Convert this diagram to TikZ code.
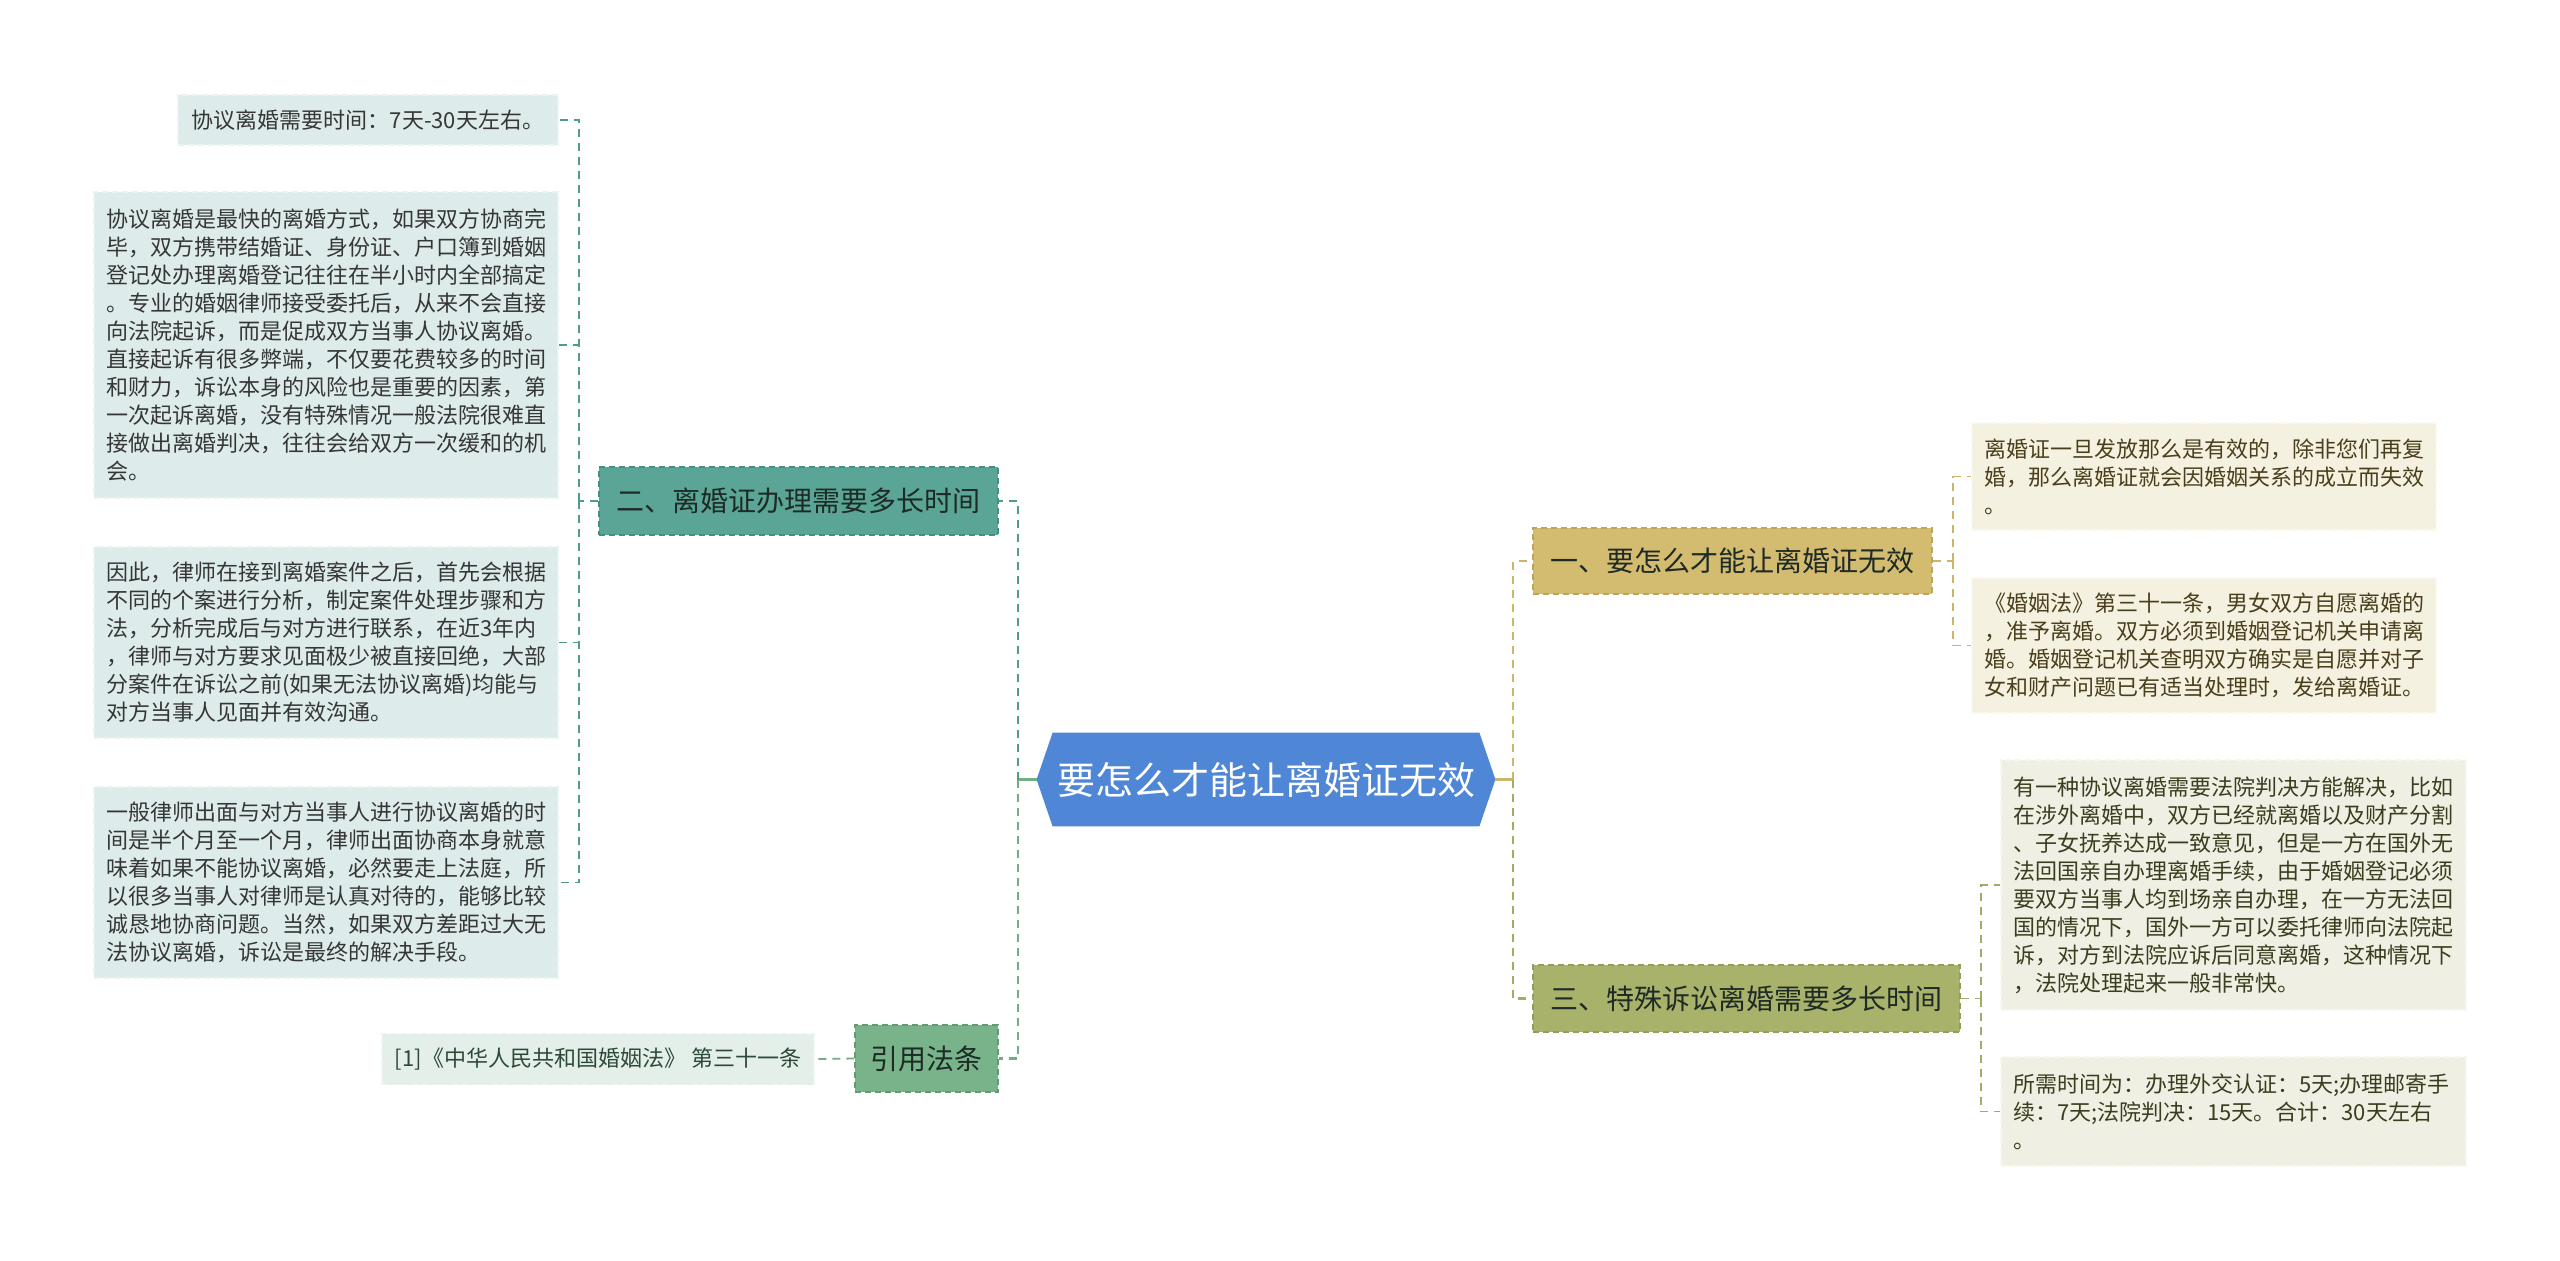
\documentclass[tikz,border=0pt]{standalone}
\usepackage{fontspec}
\setmainfont{Noto Sans CJK SC}
\usetikzlibrary{backgrounds}
\definecolor{leafLfill}{HTML}{DDECEA}
\definecolor{leafLborder}{HTML}{E9F3F1}
\definecolor{leafLtext}{HTML}{363636}
\definecolor{tealfill}{HTML}{5AA595}
\definecolor{tealborder}{HTML}{44907F}
\definecolor{tealline}{HTML}{4F9C8B}
\definecolor{greenfill}{HTML}{78B38A}
\definecolor{greenborder}{HTML}{5F9C72}
\definecolor{greenline}{HTML}{72AE84}
\definecolor{reffill}{HTML}{E4EFE9}
\definecolor{refborder}{HTML}{EEF5F1}
\definecolor{reftext}{HTML}{2D4A38}
\definecolor{centerfill}{HTML}{4F86D6}
\definecolor{goldfill}{HTML}{D3BB6F}
\definecolor{goldborder}{HTML}{BDA55A}
\definecolor{goldline}{HTML}{CDB468}
\definecolor{goldleaf}{HTML}{F5F1E0}
\definecolor{goldleafborder}{HTML}{FAF7EC}
\definecolor{goldtext}{HTML}{4A3F1C}
\definecolor{olivefill}{HTML}{A9B26A}
\definecolor{oliveborder}{HTML}{949D58}
\definecolor{oliveline}{HTML}{A3AC64}
\definecolor{oliveleaf}{HTML}{EFF0E3}
\definecolor{oliveleafborder}{HTML}{F6F7EE}
\definecolor{olivetext}{HTML}{3B3D1E}
\definecolor{darktext}{HTML}{1E2A26}
\begin{document}
\begin{tikzpicture}[x=0.5pt,y=-0.5pt,
  dashbox/.style={dash pattern=on 3pt off 2pt, line width=0.7pt},
  leaftxt/.style={font=\fontsize{11}{14}\selectfont, inner xsep=6pt, inner ysep=0pt, align=left},
  leafL/.style={leaftxt, dashbox, fill=leafLfill, draw=leafLborder, text=leafLtext, text width=220pt},
  leafG/.style={leaftxt, dashbox, fill=goldleaf, draw=goldleafborder, text=goldtext, text width=220pt},
  leafO/.style={leaftxt, dashbox, fill=oliveleaf, draw=oliveleafborder, text=olivetext, text width=220.5pt},
  branch/.style={font=\fontsize{14}{17}\selectfont, dashbox, inner sep=0pt, align=center, text=darktext},
  mainconn/.style={line width=1.4pt, dash pattern=on 4pt off 3pt},
  leafconn/.style={line width=0.9pt, dash pattern=on 4pt off 3pt},
  stem/.style={line width=1.6pt}
]
\useasboundingbox (0,0) rectangle (2560,1260);

% center
\node[inner sep=0pt, minimum width=229pt, minimum height=46.5pt, text=white,
      font=\fontsize{19}{22}\selectfont] (c) at (1266,779.5) {要怎么才能让离婚证无效};
\begin{scope}[on background layer]
  \fill[white] (0,0) rectangle (2560,1260);
  \fill[centerfill] (c.west) -- ([xshift=8pt]c.north west) -- ([xshift=-8pt]c.north east)
     -- (c.east) -- ([xshift=-8pt]c.south east) -- ([xshift=8pt]c.south west) -- cycle;
\end{scope}

% left branches
\node[branch, fill=tealfill, draw=tealborder, minimum width=199.5pt, minimum height=34pt] (b2) at (798.5,501) {二、离婚证办理需要多长时间};
\node[branch, fill=greenfill, draw=greenborder, minimum width=71.5pt, minimum height=33.5pt, text=darktext] (cite) at (926.5,1058.5) {引用法条};
\node[leaftxt, dashbox, fill=reffill, draw=refborder, text=reftext, minimum width=216pt, minimum height=25.5pt, align=center] (ref) at (598,1059) {[1]《中华人民共和国婚姻法》 第三十一条};

% left leaves
\node[leaftxt, dashbox, fill=leafLfill, draw=leafLborder, text=leafLtext, minimum width=190pt, minimum height=25pt, align=center] (l1) at (368,120) {协议离婚需要时间：7天-30天左右。};
\node[leafL, minimum height=153pt] (l2) at (326,345) {协议离婚是最快的离婚方式，如果双方协商完\\毕，双方携带结婚证、身份证、户口簿到婚姻\\登记处办理离婚登记往往在半小时内全部搞定\\。专业的婚姻律师接受委托后，从来不会直接\\向法院起诉，而是促成双方当事人协议离婚。\\直接起诉有很多弊端，不仅要花费较多的时间\\和财力，诉讼本身的风险也是重要的因素，第\\一次起诉离婚，没有特殊情况一般法院很难直\\接做出离婚判决，往往会给双方一次缓和的机\\会。};
\node[leafL, minimum height=95.5pt] (l3) at (326,642.5) {因此，律师在接到离婚案件之后，首先会根据\\不同的个案进行分析，制定案件处理步骤和方\\法，分析完成后与对方进行联系，在近3年内\\，律师与对方要求见面极少被直接回绝，大部\\分案件在诉讼之前(如果无法协议离婚)均能与\\对方当事人见面并有效沟通。};
\node[leafL, minimum height=95.5pt] (l4) at (326,882.5) {一般律师出面与对方当事人进行协议离婚的时\\间是半个月至一个月，律师出面协商本身就意\\味着如果不能协议离婚，必然要走上法庭，所\\以很多当事人对律师是认真对待的，能够比较\\诚恳地协商问题。当然，如果双方差距过大无\\法协议离婚，诉讼是最终的解决手段。};

% right branches
\node[branch, fill=goldfill, draw=goldborder, minimum width=199.5pt, minimum height=33pt, text=darktext] (b1) at (1732.5,561) {一、要怎么才能让离婚证无效};
\node[branch, fill=olivefill, draw=oliveborder, minimum width=213.5pt, minimum height=33.5pt, text=darktext] (b3) at (1746.5,998.5) {三、特殊诉讼离婚需要多长时间};

% right leaves
\node[leafG, minimum height=53.5pt] (r1) at (2204,476.5) {离婚证一旦发放那么是有效的，除非您们再复\\婚，那么离婚证就会因婚姻关系的成立而失效\\。};
\node[leafG, minimum height=67.5pt] (r2) at (2204,645.5) {《婚姻法》第三十一条，男女双方自愿离婚的\\，准予离婚。双方必须到婚姻登记机关申请离\\婚。婚姻登记机关查明双方确实是自愿并对子\\女和财产问题已有适当处理时，发给离婚证。};
\node[leafO, minimum height=125pt] (r3) at (2233.5,885) {有一种协议离婚需要法院判决方能解决，比如\\在涉外离婚中，双方已经就离婚以及财产分割\\、子女抚养达成一致意见，但是一方在国外无\\法回国亲自办理离婚手续，由于婚姻登记必须\\要双方当事人均到场亲自办理，在一方无法回\\国的情况下，国外一方可以委托律师向法院起\\诉，对方到法院应诉后同意离婚，这种情况下\\，法院处理起来一般非常快。};
\node[leafO, minimum height=54.5pt] (r4) at (2233.5,1111.5) {所需时间为：办理外交认证：5天;办理邮寄手\\续：7天;法院判决：15天。合计：30天左右\\。};

% connector junctions
\coordinate (L0) at (1018,779.5);
\coordinate (L1j) at (579,501);
\coordinate (R0) at (1513,779.5);
\coordinate (R1j) at (1953,561);
\coordinate (R3j) at (1981,998.5);

% center to branches
\draw[stem, greenline] (c.west) -- (L0);
\draw[mainconn, tealline] (L0) |- (b2.east);
\draw[mainconn, greenline] (L0) |- (cite.east);
\draw[stem, goldline] (c.east) -- (R0);
\draw[mainconn, goldline] (R0) |- (b1.west);
\draw[mainconn, oliveline] (R0) |- (b3.west);

% left leaves
\draw[leafconn, tealline] (b2.west) -- (L1j);
\draw[leafconn, tealline] (L1j) |- (l1.east);
\draw[leafconn, tealline] (L1j) |- (l2.east);
\draw[leafconn, tealline] (L1j) |- (l3.east);
\draw[leafconn, tealline] (L1j) |- (l4.east);
\draw[leafconn, greenline] (cite.west) -- (ref.east);

% right leaves
\draw[leafconn, goldline] (b1.east) -- (R1j);
\draw[leafconn, goldline] (R1j) |- (r1.west);
\draw[leafconn, goldline] (R1j) |- (r2.west);
\draw[leafconn, oliveline] (b3.east) -- (R3j);
\draw[leafconn, oliveline] (R3j) |- (r3.west);
\draw[leafconn, oliveline] (R3j) |- (r4.west);
\end{tikzpicture}
\end{document}
